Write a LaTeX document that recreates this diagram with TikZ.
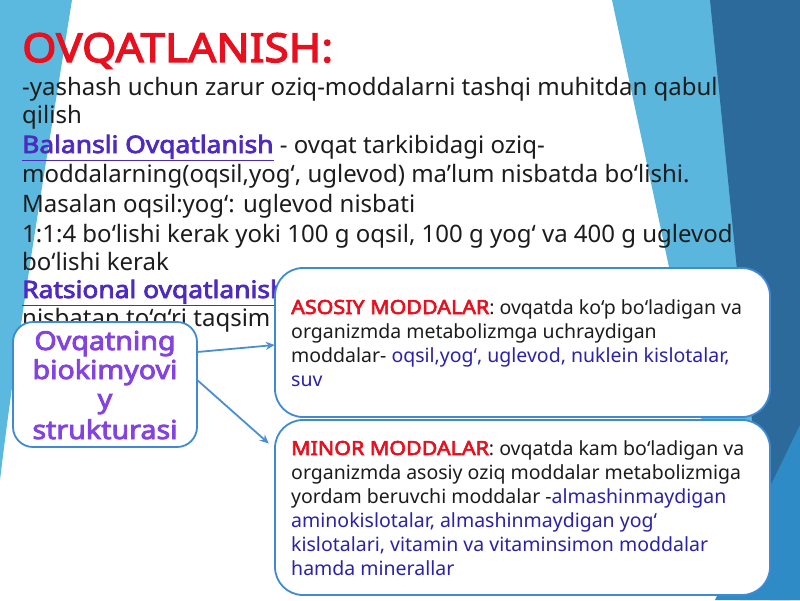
\documentclass[tikz,border=0pt]{standalone}
\usepackage{fontspec}
\setmainfont{Noto Sans}
\newfontfamily\boldfam{Noto Sans}[FakeBold=3.2, FakeStretch=1.1]
\usetikzlibrary{arrows.meta}
\definecolor{lightband}{HTML}{5BB6DE}
\definecolor{darkband}{HTML}{2B6A9B}
\definecolor{midband}{HTML}{2F8BC6}
\definecolor{leftblue}{HTML}{5BB9E0}
\definecolor{titlered}{HTML}{E8101E}
\definecolor{headpurple}{HTML}{4E2AC0}
\definecolor{boxpurple}{HTML}{8442E0}
\definecolor{bodyblack}{HTML}{1C1C1C}
\definecolor{listblue}{HTML}{2A22A8}
\definecolor{boxline}{HTML}{3F8AD2}
\definecolor{arrowblue}{HTML}{4A8FD4}
\tikzset{
  body/.style={anchor=base west, inner sep=0pt, text=bodyblack, font=\fontsize{24}{29}\selectfont},
  boxtxt/.style={anchor=base west, inner sep=0pt, text=bodyblack, font=\fontsize{19.5}{24}\selectfont},
  lefttxt/.style={anchor=base, inner sep=0pt, text=boxpurple, font=\boldfam\fontsize{26}{30}\selectfont},
  roundbox/.style={draw=boxline, line width=1.8pt, fill=white, rounded corners=#1},
  arr/.style={draw=arrowblue, line width=1.8pt, -{Stealth[length=9pt,width=8pt]}}
}
\newcommand{\hd}[1]{{\boldfam\color{headpurple}\underline{#1}}}
\newcommand{\rd}[1]{{\boldfam\color{titlered}#1}}
\newcommand{\bl}[1]{{\color{listblue}#1}}
\begin{document}
\begin{tikzpicture}[x=1pt,y=-1pt]
\useasboundingbox (0,0) rectangle (800,600);
\fill[white] (0,0) rectangle (800,600);
% background shapes
\fill[leftblue] (0,0) -- (72,0) .. controls (48,150) and (18,330) .. (0,480) -- cycle;
\fill[lightband] (612,0) -- (712,0) -- (790,600) -- (740,600) -- cycle;
\fill[darkband] (710,0) -- (800,0) -- (800,600) -- (770,600) -- cycle;
\fill[midband] (800,425) -- (800,600) -- (715,600) -- cycle;
% title and text
\node[anchor=base west, inner sep=0pt, text=titlered, font=\boldfam\fontsize{40}{44}\selectfont] (title) at (22,62) {OVQATLANISH:};
\node[body] (l1) at (22,95) {-yashash uchun zarur oziq-moddalarni tashqi muhitdan qabul};
\node[body] (l2) at (22,123) {qilish};
\node[body] (l3) at (22,153) {\hd{Balansli Ovqatlanish} - ovqat tarkibidagi oziq-};
\node[body] (l4) at (22,182) {moddalarning(oqsil,yog‘, uglevod) ma’lum nisbatda bo‘lishi.};
\node[body] (l5) at (22,212) {Masalan oqsil:yog‘: uglevod nisbati};
\node[body] (l6) at (22,242) {1:1:4 bo‘lishi kerak yoki 100 g oqsil, 100 g yog‘ va 400 g uglevod};
\node[body] (l7) at (22,270) {bo‘lishi kerak};
\node[body] (l8) at (22,298) {\hd{Ratsional ovqatlanish}};
\node[body] (l9) at (22,326) {nisbatan to‘g‘ri taqsim};
% left box
\draw[roundbox=20pt] (13,322) rectangle (197,447);
\node[inner sep=0pt, minimum width=184pt, minimum height=125pt] (lbox) at (105,384.5) {};
\node[lefttxt] (t1) at (105,350) {Ovqatning};
\node[lefttxt] (t2) at (105,379) {biokimyovi};
\node[lefttxt] (t3) at (105,408) {y};
\node[lefttxt] (t4) at (105,439) {strukturasi};
% right boxes
\draw[roundbox=28pt] (275,268) rectangle (770,417);
\node[inner sep=0pt, minimum width=495pt, minimum height=149pt] (abox) at (522.5,342.5) {};
\draw[roundbox=28pt] (275,420) rectangle (770,595);
\node[inner sep=0pt, minimum width=495pt, minimum height=175pt] (mbox) at (522.5,507.5) {};
\node[boxtxt] (a1) at (291,314) {\rd{ASOSIY MODDALAR}: ovqatda ko‘p bo‘ladigan va};
\node[boxtxt] (a2) at (291,338) {organizmda metabolizmga uchraydigan};
\node[boxtxt] (a3) at (291,362) {moddalar- \bl{oqsil,yog‘, uglevod, nuklein kislotalar,}};
\node[boxtxt] (a4) at (291,386) {\bl{suv}};
\node[boxtxt] (m1) at (291,455) {\rd{MINOR MODDALAR}: ovqatda kam bo‘ladigan va};
\node[boxtxt] (m2) at (291,479) {organizmda asosiy oziq moddalar metabolizmiga};
\node[boxtxt] (m3) at (291,503) {yordam beruvchi moddalar -\bl{almashinmaydigan}};
\node[boxtxt] (m4) at (291,527) {\bl{aminokislotalar, almashinmaydigan yog‘}};
\node[boxtxt] (m5) at (291,551) {\bl{kislotalari, vitamin va vitaminsimon moddalar}};
\node[boxtxt] (m6) at (291,575) {\bl{hamda minerallar}};
% arrows
\draw[arr] ([yshift=32.5pt]lbox.east) -- ([yshift=-2.5pt]abox.west);
\draw[arr] ([yshift=4.5pt]lbox.east) -- ([xshift=-6pt,yshift=64pt]mbox.west);
\end{tikzpicture}
\end{document}
